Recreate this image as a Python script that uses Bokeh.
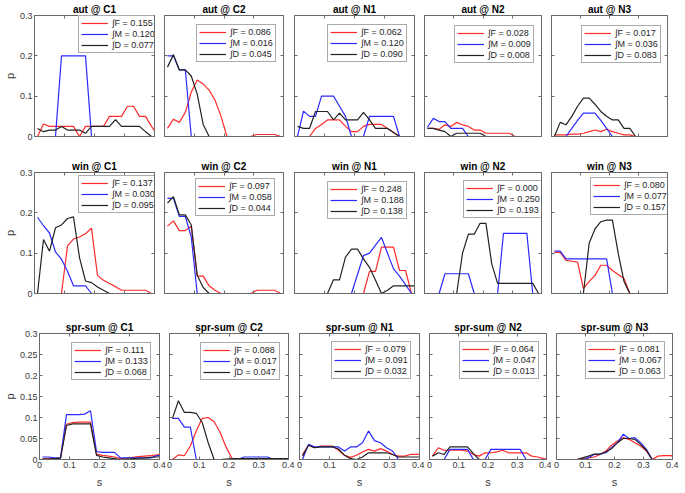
from bokeh.plotting import figure
from bokeh.models import (Range1d, FixedTicker, LinearAxis, CustomJSTickFormatter,
                          Legend, LegendItem)
from bokeh.layouts import column, row
from bokeh.embed import file_html
from bokeh.resources import INLINE

# ---------------- data ----------------
S = [0.01, 0.03, 0.05, 0.07, 0.09, 0.11, 0.13, 0.15, 0.17, 0.19, 0.21,
     0.23, 0.25, 0.27, 0.29, 0.31, 0.33, 0.35, 0.37, 0.39, 0.41]

SEASONS = ["aut", "win", "spr-sum"]
SITES = ["C1", "C2", "N1", "N2", "N3"]
GROUPS = ["F", "M", "D"]
X_TICKS = [0, 0.1, 0.2, 0.3, 0.4]
Y_TICKS_TOP = [0, 0.1, 0.2, 0.3]
Y_TICKS_BOTTOM = [0, 0.05, 0.1, 0.15, 0.2, 0.25, 0.3]

AUT_C1_F = [0, 0.031, 0.025, 0.025, 0.025, 0.025, 0.025, 0, 0.025, 0.025, 0.025, 0.025, 0.05, 0.05, 0.05, 0.075, 0.075, 0.05, 0.05, 0.025, 0.005]
AUT_C1_M = [0, 0, 0, 0, 0.2, 0.2, 0.2, 0.2, 0.2, 0, 0, 0, 0, 0, 0, 0, 0, 0, 0, 0, 0]
AUT_C1_D = [0.02, 0.012, 0.016, 0.016, 0.025, 0.016, 0.016, 0.016, 0.008, 0.025, 0.025, 0.025, 0.025, 0.042, 0.025, 0.025, 0.025, 0.025, 0.012, 0, 0]
AUT_C2_F = [0.02, 0.043, 0.035, 0.06, 0.11, 0.14, 0.13, 0.115, 0.09, 0.05, 0, 0, 0, 0, 0, 0.005, 0.005, 0.005, 0.005, 0, 0]
AUT_C2_M = [0.2, 0.2, 0.165, 0.165, 0, 0, 0, 0, 0, 0, 0, 0, 0, 0, 0, 0, 0, 0, 0, 0, 0]
AUT_C2_D = [0.172, 0.203, 0.165, 0.165, 0.15, 0.105, 0.03, 0, 0, 0, 0, 0, 0, 0, 0, 0, 0, 0, 0, 0, 0]
AUT_N1_F = [0, 0, 0, 0.02, 0.03, 0.041, 0.041, 0.041, 0.025, 0.012, 0.012, 0.025, 0.03, 0.03, 0.03, 0.02, 0.01, 0, 0, 0, 0]
AUT_N1_M = [0, 0.063, 0.05, 0.05, 0.1, 0.1, 0.1, 0.075, 0.05, 0, 0, 0, 0.05, 0.05, 0.05, 0.05, 0.05, 0, 0, 0, 0]
AUT_N1_D = [0.025, 0.02, 0.02, 0.062, 0.062, 0.062, 0.041, 0.058, 0.041, 0.041, 0.041, 0.06, 0.041, 0.02, 0.02, 0.02, 0.01, 0, 0, 0, 0]
AUT_N2_F = [0.02, 0.02, 0.018, 0.029, 0.025, 0.035, 0.029, 0.025, 0.016, 0.016, 0.008, 0.008, 0.008, 0.008, 0.008, 0, 0, 0, 0, 0, 0]
AUT_N2_M = [0.023, 0.045, 0.037, 0.037, 0.02, 0.02, 0.02, 0, 0, 0, 0, 0, 0, 0, 0, 0, 0, 0, 0, 0, 0]
AUT_N2_D = [0.02, 0.02, 0.016, 0.012, 0, 0.008, 0.008, 0.008, 0.008, 0.008, 0, 0, 0, 0, 0, 0, 0, 0, 0, 0, 0]
AUT_N3_F = [0.004, 0.004, 0.004, 0.006, 0.006, 0.008, 0.012, 0.016, 0.012, 0.018, 0.012, 0.008, 0.004, 0.004, 0, 0, 0, 0, 0, 0, 0]
AUT_N3_M = [0, 0, 0, 0.02, 0.04, 0.058, 0.058, 0.058, 0.04, 0.02, 0, 0, 0, 0, 0, 0, 0, 0, 0, 0, 0]
AUT_N3_D = [0, 0.035, 0.029, 0.05, 0.075, 0.095, 0.095, 0.08, 0.062, 0.05, 0.041, 0.041, 0.02, 0.02, 0, 0, 0, 0, 0, 0, 0]

WIN_C1_F = [0, 0, 0, 0, 0, 0.118, 0.135, 0.14, 0.148, 0.162, 0.045, 0.033, 0.025, 0.017, 0.008, 0.008, 0.008, 0.008, 0.008, 0, 0]
WIN_C1_M = [0.189, 0.168, 0.15, 0.103, 0.085, 0.055, 0.019, 0.019, 0.019, 0, 0, 0, 0, 0, 0, 0, 0, 0, 0, 0, 0]
WIN_C1_D = [0, 0.134, 0.105, 0.163, 0.17, 0.186, 0.19, 0.089, 0.031, 0.027, 0.016, 0.008, 0, 0, 0, 0, 0, 0, 0, 0, 0]
WIN_C2_F = [0.167, 0.18, 0.156, 0.156, 0.167, 0.043, 0.043, 0.019, 0.008, 0, 0, 0, 0, 0, 0, 0.008, 0.008, 0.008, 0.008, 0, 0]
WIN_C2_M = [0.236, 0.236, 0.191, 0.191, 0.14, 0, 0, 0, 0, 0, 0, 0, 0, 0, 0, 0, 0, 0, 0, 0, 0]
WIN_C2_D = [0.224, 0.24, 0.195, 0.195, 0.17, 0.045, 0.015, 0, 0, 0, 0, 0, 0, 0, 0, 0, 0, 0, 0, 0, 0]
WIN_N1_F = [0, 0, 0, 0, 0, 0, 0, 0, 0, 0, 0, 0, 0.055, 0.055, 0.115, 0.115, 0.115, 0.057, 0.057, 0, 0]
WIN_N1_M = [0, 0, 0, 0, 0, 0, 0, 0, 0, 0, 0.047, 0.094, 0.1, 0.12, 0.139, 0.1, 0.061, 0.043, 0.022, 0, 0]
WIN_N1_D = [0, 0, 0, 0, 0, 0, 0.034, 0.034, 0.09, 0.11, 0.11, 0.086, 0.065, 0.033, 0, 0.008, 0.019, 0.019, 0.019, 0.019, 0.019]
WIN_N2_F = [0, 0, 0, 0, 0, 0, 0, 0, 0, 0, 0, 0, 0, 0, 0, 0, 0, 0, 0, 0, 0]
WIN_N2_M = [0, 0, 0, 0.049, 0.049, 0.049, 0.049, 0.049, 0, 0, 0, 0, 0, 0.149, 0.149, 0.149, 0.149, 0.149, 0, 0, 0]
WIN_N2_D = [0, 0, 0, 0, 0, 0, 0.1, 0.147, 0.147, 0.174, 0.174, 0.073, 0.025, 0.025, 0.025, 0.025, 0.025, 0.025, 0.025, 0, 0]
WIN_N3_F = [0.102, 0.102, 0.082, 0.08, 0.078, 0.012, 0.03, 0.045, 0.07, 0.07, 0.057, 0.047, 0.037, 0, 0, 0, 0, 0, 0, 0, 0]
WIN_N3_M = [0.105, 0.105, 0.086, 0.086, 0.086, 0.086, 0.086, 0.086, 0.086, 0.086, 0, 0, 0, 0, 0, 0, 0, 0, 0, 0, 0]
WIN_N3_D = [0, 0, 0, 0, 0, 0, 0.125, 0.16, 0.178, 0.182, 0.182, 0.1, 0.03, 0, 0, 0, 0, 0, 0, 0, 0]

SPR_C1_F = [0.002, 0.002, 0.002, 0.004, 0.084, 0.088, 0.089, 0.089, 0.089, 0.013, 0.01, 0.008, 0.006, 0.002, 0.003, 0.005, 0.007, 0.008, 0.009, 0.011, 0.012]
SPR_C1_M = [0.006, 0.006, 0.004, 0.004, 0.107, 0.107, 0.107, 0.108, 0.116, 0.019, 0.017, 0.017, 0.017, 0.004, 0.004, 0.004, 0.004, 0.004, 0.004, 0.009, 0.009]
SPR_C1_D = [0.001, 0.001, 0.002, 0.003, 0.081, 0.085, 0.085, 0.085, 0.085, 0.01, 0.006, 0.004, 0.002, 0, 0.001, 0.002, 0.003, 0.004, 0.005, 0.006, 0.007]
SPR_C2_F = [0, 0.011, 0.009, 0.032, 0.068, 0.098, 0.1, 0.09, 0.065, 0.03, 0.003, 0.002, 0.002, 0.002, 0.001, 0.001, 0.001, 0, 0, 0, 0]
SPR_C2_M = [0.098, 0.098, 0.077, 0.077, 0, 0, 0, 0, 0, 0, 0, 0, 0.006, 0.006, 0.006, 0.006, 0.006, 0, 0, 0, 0]
SPR_C2_D = [0.098, 0.14, 0.112, 0.112, 0.11, 0.088, 0.04, 0, 0, 0.001, 0.002, 0.002, 0.002, 0.002, 0.002, 0.002, 0.002, 0.002, 0.002, 0.002, 0.002]
SPR_N1_F = [0.012, 0.034, 0.028, 0.032, 0.032, 0.032, 0.022, 0.01, 0.005, 0.01, 0.018, 0.024, 0.02, 0.026, 0.02, 0.012, 0.008, 0.008, 0.012, 0.012, 0.012]
SPR_N1_M = [0, 0.036, 0.03, 0.03, 0.03, 0.03, 0.03, 0.02, 0.03, 0.03, 0.04, 0.068, 0.045, 0.04, 0.028, 0.02, 0, 0, 0, 0, 0]
SPR_N1_D = [0.008, 0.034, 0.028, 0.03, 0.03, 0.03, 0.025, 0.01, 0.002, 0, 0.006, 0.016, 0.016, 0.016, 0.016, 0.012, 0.006, 0.006, 0.006, 0.006, 0.006]
SPR_N2_F = [0.008, 0.028, 0.022, 0.022, 0.022, 0.022, 0.02, 0.012, 0.008, 0.016, 0.016, 0.018, 0.022, 0.016, 0.016, 0.016, 0.016, 0.008, 0.006, 0.002, 0]
SPR_N2_M = [0, 0, 0, 0.024, 0.024, 0.024, 0.024, 0, 0, 0, 0.024, 0.024, 0.024, 0.024, 0.024, 0.024, 0, 0, 0, 0, 0]
SPR_N2_D = [0.008, 0.016, 0.012, 0.03, 0.03, 0.03, 0.03, 0.014, 0, 0, 0, 0, 0, 0, 0, 0, 0, 0, 0, 0, 0]
SPR_N3_F = [0, 0, 0, 0, 0.002, 0.004, 0.006, 0.012, 0.02, 0.034, 0.044, 0.052, 0.048, 0.04, 0.032, 0.02, 0, 0.008, 0.009, 0.009, 0.008]
SPR_N3_M = [0, 0, 0, 0, 0, 0.004, 0.012, 0.013, 0.016, 0.028, 0.04, 0.06, 0.05, 0.052, 0.04, 0.024, 0, 0, 0, 0, 0]
SPR_N3_D = [0, 0, 0, 0, 0.004, 0.008, 0.013, 0.013, 0.018, 0.026, 0.04, 0.05, 0.05, 0.048, 0.036, 0.022, 0, 0, 0, 0, 0]

# integral values shown in the legends (F, M, D)
INT_AUT = [["0.155", "0.120", "0.077"], ["0.086", "0.016", "0.045"], ["0.062", "0.120", "0.090"],
           ["0.028", "0.009", "0.008"], ["0.017", "0.036", "0.083"]]
INT_WIN = [["0.137", "0.030", "0.095"], ["0.097", "0.058", "0.044"], ["0.248", "0.188", "0.138"],
           ["0.000", "0.250", "0.193"], ["0.080", "0.077", "0.157"]]
INT_SPR = [["0.111", "0.133", "0.068"], ["0.088", "0.017", "0.047"], ["0.079", "0.091", "0.032"],
           ["0.064", "0.047", "0.013"], ["0.081", "0.067", "0.063"]]

SERIES = [
    [[AUT_C1_F, AUT_C1_M, AUT_C1_D], [AUT_C2_F, AUT_C2_M, AUT_C2_D], [AUT_N1_F, AUT_N1_M, AUT_N1_D],
     [AUT_N2_F, AUT_N2_M, AUT_N2_D], [AUT_N3_F, AUT_N3_M, AUT_N3_D]],
    [[WIN_C1_F, WIN_C1_M, WIN_C1_D], [WIN_C2_F, WIN_C2_M, WIN_C2_D], [WIN_N1_F, WIN_N1_M, WIN_N1_D],
     [WIN_N2_F, WIN_N2_M, WIN_N2_D], [WIN_N3_F, WIN_N3_M, WIN_N3_D]],
    [[SPR_C1_F, SPR_C1_M, SPR_C1_D], [SPR_C2_F, SPR_C2_M, SPR_C2_D], [SPR_N1_F, SPR_N1_M, SPR_N1_D],
     [SPR_N2_F, SPR_N2_M, SPR_N2_D], [SPR_N3_F, SPR_N3_M, SPR_N3_D]],
]
INTS = [INT_AUT, INT_WIN, INT_SPR]

# ---------------- layout / style ----------------
FONT = "Liberation Sans"
AX = "#6a6a6a"
TXT = "#3a3a3a"
LINE_COLORS = ["#ff2a2a", "#2a2aff", "#222222"]

FRAME_W = [120, 119, 120, 117, 116]
BORDER_L = [30, 3, 5, 5, 5]
BORDER_R = [7, 6, 5, 5, 6]
FRAME_H = [121, 121, 126]
BORDER_T = [14, 21, 21]
BORDER_B = [15, 19, 25]
LEG_H = 38
LEG_OFF = [  # (dx from frame left, dy from frame top)
    [(44, 0), (32, 9), (33, 9), (30, 10), (30, 10)],
    [(44, 3), (31, 6), (33, 9), (39, 8), (39, 5)],
    [(32, 9), (31, 9), (32, 8), (30, 8), (29, 8)],
]

fmt_code = "return String(Math.round(tick*1000)/1000);"


def style_axis(ax, ticks, show_labels):
    ax.ticker = FixedTicker(ticks=ticks)
    ax.axis_line_color = AX
    ax.axis_line_width = 1
    ax.major_tick_line_color = AX
    ax.major_tick_in = 3
    ax.major_tick_out = 0
    ax.minor_tick_line_color = None
    ax.major_label_text_font = FONT
    if show_labels:
        ax.major_label_text_color = TXT
        ax.major_label_text_font_size = "9px"
        ax.major_label_standoff = 2
        ax.formatter = CustomJSTickFormatter(code=fmt_code)
    else:
        ax.major_label_text_color = None
        ax.major_label_standoff = 0


rows = []
for r, season in enumerate(SEASONS):
    figs = []
    yt = Y_TICKS_BOTTOM if r == 2 else Y_TICKS_TOP
    for c, site in enumerate(SITES):
        p = figure(frame_width=FRAME_W[c], frame_height=FRAME_H[r],
                   x_range=Range1d(0, 0.4), y_range=Range1d(0, 0.3),
                   output_backend="svg", toolbar_location=None,
                   min_border_left=BORDER_L[c], min_border_right=BORDER_R[c],
                   min_border_top=BORDER_T[r], min_border_bottom=BORDER_B[r])
        p.xgrid.visible = False
        p.ygrid.visible = False
        p.outline_line_color = AX
        p.background_fill_color = "white"
        p.border_fill_color = "white"
        p.title.text = f"{season} @ {site}"
        p.title.text_font = FONT
        p.title.text_font_size = "10px"
        p.title.text_font_style = "bold"
        p.title.text_color = "black"
        p.title.align = "center"
        p.title.standoff = 2

        style_axis(p.xaxis[0], X_TICKS, r == 2)
        style_axis(p.yaxis[0], yt, c == 0)
        if r == 2:
            p.xaxis[0].axis_label = "s"
            p.xaxis[0].axis_label_text_font = FONT
            p.xaxis[0].axis_label_text_font_size = "11px"
            p.xaxis[0].axis_label_text_font_style = "normal"
            p.xaxis[0].axis_label_text_color = TXT
            p.xaxis[0].axis_label_standoff = 5
        if c == 0:
            p.yaxis[0].axis_label = "p"
            p.yaxis[0].axis_label_text_font = FONT
            p.yaxis[0].axis_label_text_font_size = "11px"
            p.yaxis[0].axis_label_text_font_style = "normal"
            p.yaxis[0].axis_label_text_color = TXT
            p.yaxis[0].axis_label_standoff = 1
        top_ax = LinearAxis()
        style_axis(top_ax, X_TICKS, False)
        p.add_layout(top_ax, "above")
        right_ax = LinearAxis()
        style_axis(right_ax, yt, False)
        p.add_layout(right_ax, "right")

        items = []
        for g in range(3):
            rend = p.line(S, SERIES[r][c][g], line_color=LINE_COLORS[g], line_width=1.2)
            items.append(LegendItem(label=f"\u222b{GROUPS[g]} = {INTS[r][c][g]}", renderers=[rend]))
        dx, dy = LEG_OFF[r][c]
        leg = Legend(items=items, location=(dx, FRAME_H[r] - dy - LEG_H),
                     margin=0, padding=2, spacing=1, label_standoff=4,
                     glyph_width=27, glyph_height=10, label_height=10,
                     label_text_font=FONT, label_text_font_size="9px",
                     label_text_color="#262626",
                     border_line_color="#555555", border_line_width=1,
                     background_fill_color="white", background_fill_alpha=1)
        p.add_layout(leg)
        figs.append(p)
    rows.append(row(*figs))

layout = column(*rows)
open("out.html", "w").write(file_html(layout, INLINE))
